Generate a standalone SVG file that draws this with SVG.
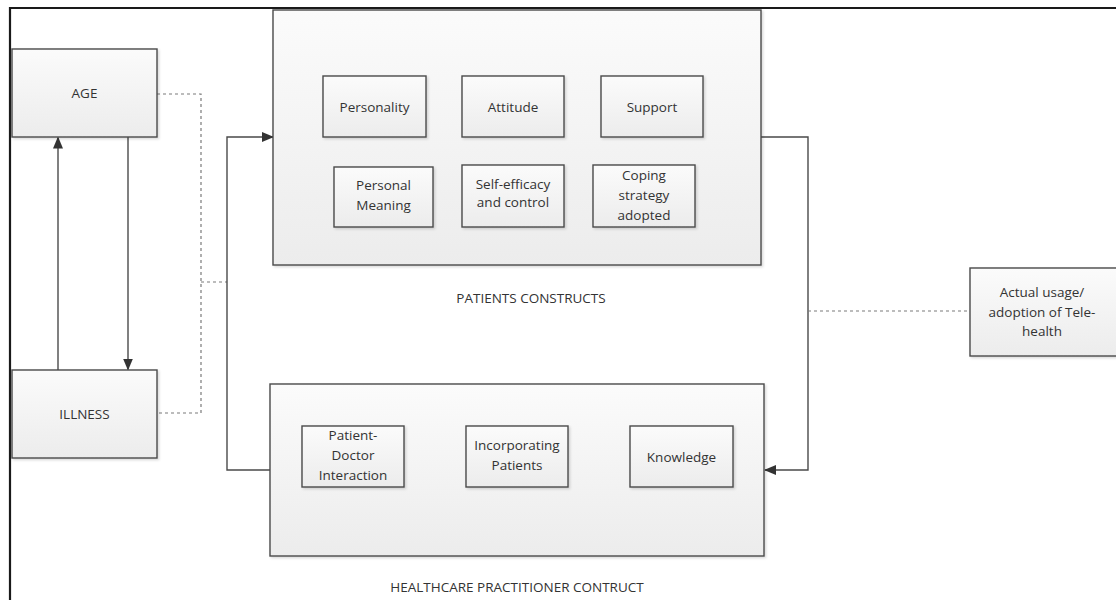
<svg xmlns="http://www.w3.org/2000/svg" width="1116" height="600" viewBox="0 0 1116 600">
  <defs>
    <linearGradient id="boxFill" x1="0" y1="0" x2="0" y2="1">
      <stop offset="0" stop-color="#fbfbfb"/>
      <stop offset="1" stop-color="#ececec"/>
    </linearGradient>
    <filter id="shadow" x="-5%" y="-5%" width="112%" height="115%">
      <feDropShadow dx="1.5" dy="1.5" stdDeviation="1.2" flood-color="#000" flood-opacity="0.15"/>
    </filter>
    <marker id="arrow" markerUnits="userSpaceOnUse" markerWidth="12" markerHeight="10" refX="11" refY="5" orient="auto">
      <path d="M0,0 L12,5 L0,10 z" fill="#333"/>
    </marker>
  </defs>
  <style>
    .box { fill: url(#boxFill); stroke: #4a4a4a; stroke-width: 1.4; filter: url(#shadow); }
    .lbl { font-family: "Open Sans", "Liberation Sans", sans-serif; font-size: 13.5px; fill: #333; text-anchor: middle; }
    .cap { font-family: "Open Sans", "Liberation Sans", sans-serif; font-size: 13.5px; fill: #333; text-anchor: middle; }
    .solid { fill: none; stroke: #4a4a4a; stroke-width: 1.4; }
    .dot { fill: none; stroke: #7a7a7a; stroke-width: 1.2; stroke-dasharray: 3 3; }
  </style>

  <rect width="1116" height="600" fill="#fff"/>

  <!-- page frame: left and top edges only -->
  <path d="M10,600 V8 H1116" fill="none" stroke="#1a1a1a" stroke-width="2.2"/>

  <g id="connectors">
    <!-- ILLNESS -> AGE -->
    <path class="solid" d="M58,370 V137.5" marker-end="url(#arrow)"/>
    <!-- AGE -> ILLNESS -->
    <path class="solid" d="M128,137 V369.5" marker-end="url(#arrow)"/>
    <!-- AGE / ILLNESS dotted join -->
    <path class="dot" d="M157,94 H201 V413 H157"/>
    <path class="dot" d="M201,282 H227"/>
    <!-- healthcare practitioner -> patients constructs -->
    <path class="solid" d="M270,470 H227 V137 H273" marker-end="url(#arrow)"/>
    <!-- patients constructs -> healthcare practitioner -->
    <path class="solid" d="M761,137 H808 V470 H765" marker-end="url(#arrow)"/>
    <!-- link to adoption outcome -->
    <path class="dot" d="M808,311 H970"/>
  </g>

  <g id="age">
    <rect class="box" x="12" y="49" width="145" height="88"/>
    <text class="lbl" x="84.5" y="98">AGE</text>
  </g>

  <g id="illness">
    <rect class="box" x="12" y="370" width="145" height="88"/>
    <text class="lbl" x="84.5" y="419">ILLNESS</text>
  </g>

  <g id="patients-constructs">
    <rect class="box" x="273" y="10" width="488" height="255"/>
    <text class="cap" x="531" y="303">PATIENTS CONSTRUCTS</text>
  </g>

  <g id="personality">
    <rect class="box" x="323" y="76" width="103" height="61"/>
    <text class="lbl" x="374.5" y="111.5">Personality</text>
  </g>
  <g id="attitude">
    <rect class="box" x="462" y="76" width="102" height="61"/>
    <text class="lbl" x="513" y="111.5">Attitude</text>
  </g>
  <g id="support">
    <rect class="box" x="601" y="76" width="102" height="61"/>
    <text class="lbl" x="652" y="111.5">Support</text>
  </g>
  <g id="personal-meaning">
    <rect class="box" x="334" y="167" width="99" height="60"/>
    <text class="lbl" x="383.5" y="190">Personal</text>
    <text class="lbl" x="383.5" y="210">Meaning</text>
  </g>
  <g id="self-efficacy">
    <rect class="box" x="462" y="165" width="102" height="62"/>
    <text class="lbl" x="513" y="189">Self-efficacy</text>
    <text class="lbl" x="513" y="207">and control</text>
  </g>
  <g id="coping">
    <rect class="box" x="593" y="165" width="102" height="62"/>
    <text class="lbl" x="644" y="180">Coping</text>
    <text class="lbl" x="644" y="200">strategy</text>
    <text class="lbl" x="644" y="220">adopted</text>
  </g>

  <g id="healthcare-practitioner-construct">
    <rect class="box" x="270" y="384" width="494" height="172"/>
    <text class="cap" x="517" y="592">HEALTHCARE PRACTITIONER CONTRUCT</text>
  </g>

  <g id="patient-doctor">
    <rect class="box" x="302" y="426" width="102" height="61"/>
    <text class="lbl" x="353" y="440">Patient-</text>
    <text class="lbl" x="353" y="460">Doctor</text>
    <text class="lbl" x="353" y="480">Interaction</text>
  </g>
  <g id="incorporating-patients">
    <rect class="box" x="466" y="426" width="102" height="61"/>
    <text class="lbl" x="517" y="450">Incorporating</text>
    <text class="lbl" x="517" y="470">Patients</text>
  </g>
  <g id="knowledge">
    <rect class="box" x="630" y="426" width="103" height="61"/>
    <text class="lbl" x="681.5" y="461.5">Knowledge</text>
  </g>

  <g id="adoption">
    <rect class="box" x="970" y="268" width="150" height="88"/>
    <text class="lbl" x="1042" y="297">Actual usage/</text>
    <text class="lbl" x="1042" y="317">adoption of Tele-</text>
    <text class="lbl" x="1042" y="336">health</text>
  </g>
</svg>
